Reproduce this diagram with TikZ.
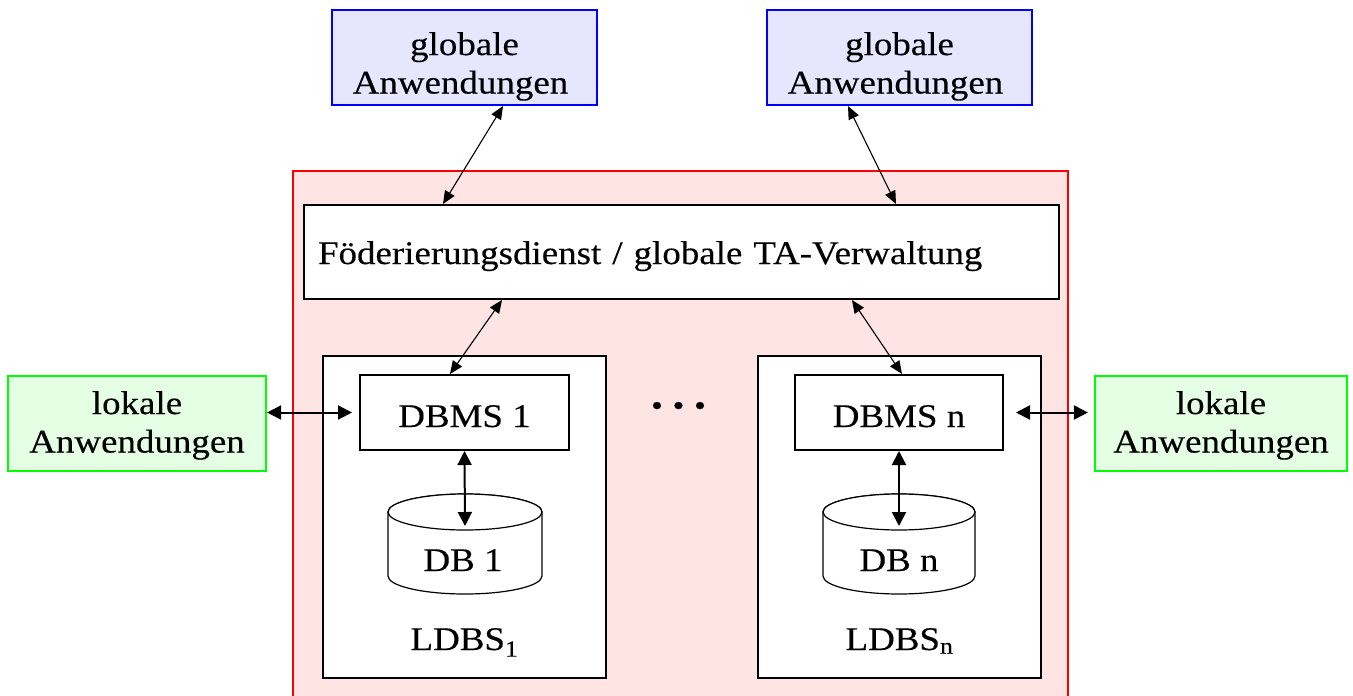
\documentclass[tikz,border=0pt]{standalone}
\usepackage{fontspec}
\setmainfont{Liberation Serif}[FakeStretch=1.12,FakeBold=0.3]
\usetikzlibrary{arrows.meta,calc}
\definecolor{bfill}{RGB}{230,230,255}
\definecolor{bline}{RGB}{0,0,255}
\definecolor{rfill}{RGB}{255,228,228}
\definecolor{rline}{RGB}{255,0,0}
\definecolor{gfill}{RGB}{228,255,228}
\definecolor{gline}{RGB}{0,255,0}
\begin{document}
\begin{tikzpicture}[x=1pt,y=-1pt,
  txt/.style={font=\fontsize{33}{38.5}\selectfont},
  bluebox/.style={draw=bline, fill=bfill, line width=2.2pt, minimum width=265pt, minimum height=95pt, align=center, inner sep=0pt, txt},
  greenbox/.style={draw=gline, fill=gfill, line width=2.2pt, minimum height=95pt, align=center, inner sep=0pt, txt},
  sysbox/.style={draw=rline, fill=rfill, line width=1.8pt, minimum width=775pt, minimum height=549pt, inner sep=0pt},
  blackbox/.style={draw=black, fill=white, line width=2pt, inner sep=0pt, txt},
  plain/.style={inner sep=0pt, txt},
  thinarrow/.style={{Triangle[length=13pt,width=11pt]}-{Triangle[length=13pt,width=11pt]}, line width=1.1pt},
  thickarrow/.style={{Triangle[length=14pt,width=14pt]}-{Triangle[length=14pt,width=14pt]}, line width=2pt},
  cyl/.style={draw=black, fill=white, line width=1.2pt}
]
\useasboundingbox (0,0) rectangle (1353,696);

% global applications
\node[bluebox] (ga1) at (464.5,57.5) {\rule{0pt}{40.7pt}globale\\Anwendungen\hspace*{8pt}};
\node[bluebox] (ga2) at (899.5,57.5) {\rule{0pt}{40.7pt}globale\\Anwendungen\hspace*{8pt}};

% federated system
\node[sysbox] (sys) at (680.5,445.5) {};
\node[blackbox, minimum width=755pt, minimum height=94pt, text width=727pt, align=left, text height=24pt, text depth=0pt] (fed) at (681.5,252) {Föderierungsdienst / globale TA-Verwaltung};

% local systems
\node[blackbox, minimum width=283pt, minimum height=322pt] (ldbs1) at (464.5,517) {};
\node[blackbox, minimum width=283pt, minimum height=322pt] (ldbsn) at (899.5,517) {};
\node[blackbox, minimum width=209pt, minimum height=75pt, text height=29pt, text depth=0pt] (dbms1) at (464.5,412.5) {DBMS 1};
\node[blackbox, minimum width=208pt, minimum height=75pt, text height=29pt, text depth=0pt] (dbmsn) at (899,412.5) {DBMS n};

% databases
\filldraw[cyl] (388,512) -- (388,576) arc[start angle=180,end angle=360,x radius=77pt,y radius=18pt] -- (542,512) arc[start angle=0,end angle=180,x radius=77pt,y radius=18pt] -- cycle;
\draw[cyl] (465,512) ellipse[x radius=77pt,y radius=18pt];
\filldraw[cyl] (823,512) -- (823,576) arc[start angle=180,end angle=360,x radius=76pt,y radius=18pt] -- (975,512) arc[start angle=0,end angle=180,x radius=76pt,y radius=18pt] -- cycle;
\draw[cyl] (899,512) ellipse[x radius=76pt,y radius=18pt];
\coordinate (db1top) at (465,526);
\coordinate (dbntop) at (899,526);
\node[plain, anchor=base] (db1) at (463,571) {DB 1};
\node[plain, anchor=base] (dbn) at (899,571) {DB n};
\node[plain, anchor=base] (lab1) at (464.5,650) {LDBS\textsubscript{1}};
\node[plain, anchor=base] (labn) at (899.5,650) {LDBS\textsubscript{n}};

% dots
\node[inner sep=0pt, anchor=base, font=\fontsize{44}{44}\selectfont\bfseries] (dots) at (678.5,408.5) {.\hspace{9.2pt}.\hspace{9.2pt}.};

% local applications
\node[greenbox, minimum width=258pt] (la1) at (137,423.5) {\rule{0pt}{26.7pt}lokale\\Anwendungen};
\node[greenbox, minimum width=252pt] (la2) at (1221,423.5) {\rule{0pt}{26.7pt}lokale\\Anwendungen};

% connectors
\draw[thinarrow] ([xshift=38.5pt]ga1.south) -- ([xshift=-238.5pt]fed.north);
\draw[thinarrow] ([xshift=-51.5pt]ga2.south) -- ([xshift=214.5pt]fed.north);
\draw[thinarrow] ([xshift=-179.5pt]fed.south) -- ([xshift=-14.5pt]dbms1.north);
\draw[thinarrow] ([xshift=170.5pt]fed.south) -- ([xshift=3pt]dbmsn.north);
\draw[thickarrow] (la1.east |- dbms1.west) -- ([xshift=-7pt]dbms1.west);
\draw[thickarrow] ([xshift=12pt]dbmsn.east) -- ([xshift=-6pt]la2.west |- dbmsn.east);
\draw[thickarrow] (dbms1.south) -- (db1top);
\draw[thickarrow] (dbmsn.south) -- (dbntop);
\end{tikzpicture}
\end{document}
